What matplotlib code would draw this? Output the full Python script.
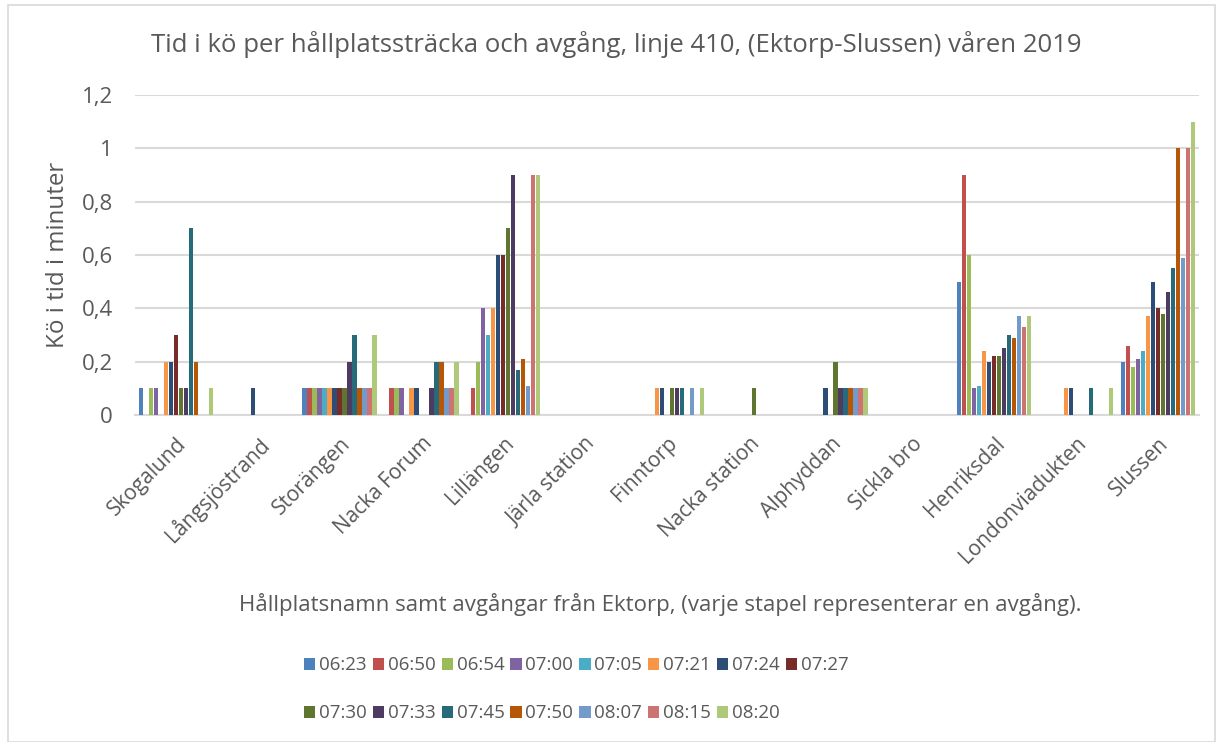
import matplotlib
matplotlib.use("Agg")
import matplotlib.pyplot as plt
import numpy as np
from matplotlib.patches import Rectangle
from matplotlib.ticker import FuncFormatter

plt.rcParams['font.family'] = ['Open Sans', 'DejaVu Sans']

hallplatser = ["Skogalund", "Långsjöstrand", "Storängen", "Nacka Forum", "Lillängen",
               "Järla station", "Finntorp", "Nacka station", "Alphyddan", "Sickla bro",
               "Henriksdal", "Londonviadukten", "Slussen"]

avgangar = ["06:23", "06:50", "06:54", "07:00", "07:05", "07:21", "07:24", "07:27",
            "07:30", "07:33", "07:45", "07:50", "08:07", "08:15", "08:20"]

# en rad per hållplats, en kolumn per avgång
skogalund = [0.1, 0, 0.1, 0.1, 0, 0.2, 0.2, 0.3, 0.1, 0.1, 0.7, 0.2, 0, 0, 0.1]
langsjostrand = [0, 0, 0, 0, 0, 0, 0.1, 0, 0, 0, 0, 0, 0, 0, 0]
storangen = [0.1, 0.1, 0.1, 0.1, 0.1, 0.1, 0.1, 0.1, 0.1, 0.2, 0.3, 0.1, 0.1, 0.1, 0.3]
nacka_forum = [0, 0.1, 0.1, 0.1, 0, 0.1, 0.1, 0, 0, 0.1, 0.2, 0.2, 0.1, 0.1, 0.2]
lillangen = [0, 0.1, 0.2, 0.4, 0.3, 0.4, 0.6, 0.6, 0.7, 0.9, 0.17, 0.21, 0.11, 0.9, 0.9]
jarla = [0] * 15
finntorp = [0, 0, 0, 0, 0, 0.1, 0.1, 0, 0.1, 0.1, 0.1, 0, 0.1, 0, 0.1]
nacka_station = [0, 0, 0, 0, 0, 0, 0, 0, 0.1, 0, 0, 0, 0, 0, 0]
alphyddan = [0, 0, 0, 0, 0, 0, 0.1, 0, 0.2, 0.1, 0.1, 0.1, 0.1, 0.1, 0.1]
sickla_bro = [0] * 15
henriksdal = [0.5, 0.9, 0.6, 0.1, 0.11, 0.24, 0.2, 0.22, 0.22, 0.25, 0.3, 0.29, 0.37, 0.33, 0.37]
londonviadukten = [0, 0, 0, 0, 0, 0.1, 0.1, 0, 0, 0, 0.1, 0, 0, 0, 0.1]
slussen = [0.2, 0.26, 0.18, 0.21, 0.24, 0.37, 0.5, 0.4, 0.38, 0.46, 0.55, 1.0, 0.59, 1.0, 1.1]

farger = ["#4F81BD", "#C0504D", "#9BBB59", "#8064A2", "#4BACC6", "#F79646", "#2C4D75",
          "#772C2A", "#5F7530", "#4D3B62", "#276A7C", "#B65708", "#729ACA", "#CD7371", "#AFC97A"]

data = np.array([skogalund, langsjostrand, storangen, nacka_forum, lillangen, jarla,
                 finntorp, nacka_station, alphyddan, sickla_bro, henriksdal,
                 londonviadukten, slussen])

grey = "#595959"
fig = plt.figure(figsize=(12.22, 7.42), dpi=100)
ax = fig.add_axes([0.1105, 0.4407, 0.8705, 0.4313])

x = np.arange(len(hallplatser))
steg = 5 / 81.8
bredd = 4.4 / 81.8
handles = []
for i, tid in enumerate(avgangar):
    b = ax.bar(x + (i - 7) * steg, data[:, i], width=bredd, color=farger[i],
               label=tid, zorder=3, linewidth=0)
    handles.append(b)

ax.set_xlim(-0.5, len(hallplatser) - 0.5)
ax.set_ylim(0, 1.2)
ax.set_yticks(np.arange(0, 1.21, 0.2))
ax.yaxis.set_major_formatter(FuncFormatter(lambda v, p: f"{v:.1f}".rstrip("0").rstrip(".").replace(".", ",")))
ax.grid(axis="y", color="#D9D9D9", linewidth=1.5, zorder=0)
for s in ["top", "right", "left"]:
    ax.spines[s].set_visible(False)
ax.spines["bottom"].set_color("#D9D9D9")
ax.spines["bottom"].set_linewidth(1.5)
ax.tick_params(axis="both", length=0, colors=grey)
ax.tick_params(axis="y", pad=16, labelsize=16)
ax.set_xticks(x)
ax.set_xticklabels(hallplatser, rotation=45, ha="right", va="top", rotation_mode="anchor")
ax.tick_params(axis="x", pad=13, labelsize=15)

ax.set_ylabel("Kö i tid i minuter", color=grey, fontsize=17.4, labelpad=8)
fig.text(0.504, 0.94, "Tid i kö per hållplatssträcka och avgång, linje 410, (Ektorp-Slussen) våren 2019",
         ha="center", va="center", color=grey, fontsize=18.5)
fig.text(0.54, 0.185, "Hållplatsnamn samt avgångar från Ektorp, (varje stapel representerar en avgång).",
         ha="center", va="center", color=grey, fontsize=16)

# radvis ordning i legenden
ordning = [0, 8, 1, 9, 2, 10, 3, 11, 4, 12, 5, 13, 6, 14, 7]
fig.legend([handles[i] for i in ordning], [avgangar[i] for i in ordning],
           ncol=8, loc="upper left", bbox_to_anchor=(0.235, 0.138), frameon=False,
           fontsize=13.5, labelcolor=grey, handlelength=0.6, handleheight=0.6,
           handletextpad=0.2, columnspacing=0.32, labelspacing=1.6)

fig.patches.append(Rectangle((8 / 1222, 0), 1207 / 1222, 737 / 742, transform=fig.transFigure,
                             fill=False, edgecolor="#D9D9D9", linewidth=1.2))

fig.savefig("out.png", dpi=100)
